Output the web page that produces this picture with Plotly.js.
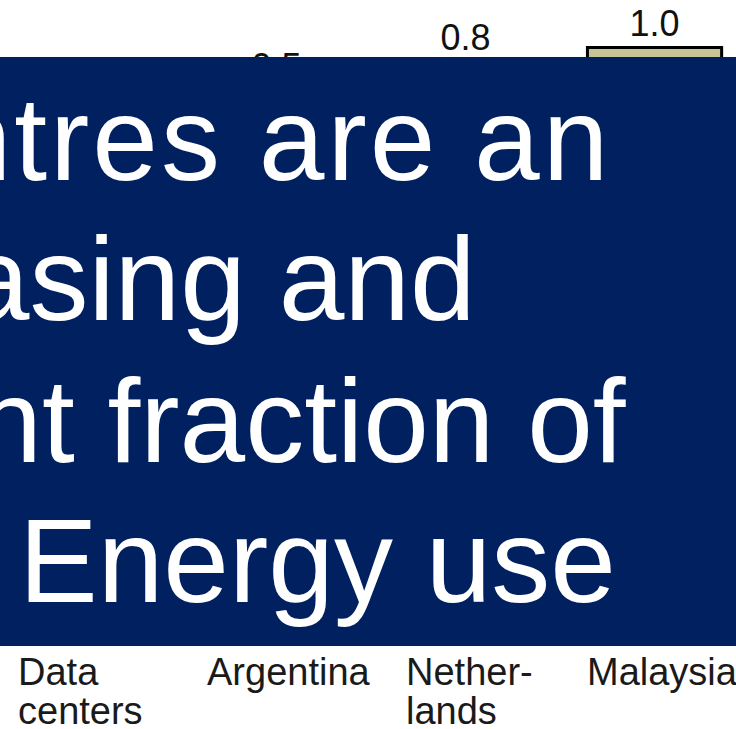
<!DOCTYPE html>
<html>
<head>
<meta charset="utf-8">
<script src="https://cdn.plot.ly/plotly-3.0.1.min.js"></script>
<style>
  html, body { margin: 0; padding: 0; background: #ffffff; overflow: hidden; }
  #chart { width: 736px; height: 729px; }
</style>
</head>
<body>
<div id="chart"></div>
<script>
// Electricity use, share of world total (%)
const categories = ['Data centers', 'Argentina', 'Netherlands', 'Malaysia'];
const tickLabels = [['Data', 'centers'], ['Argentina'], ['Nether-', 'lands'], ['Malaysia']];
const values = [0.4, 0.5, 0.8, 1.0];
const valueLabels = values.map(v => v.toFixed(1));
const headlineLines = ['Data centres are an', 'increasing and', 'significant fraction of', 'Energy use'];

const W = 736, H = 729;
const plotH = 640;                       // plot area height (px), top margin 0
const FONT = 'Liberation Sans, Arial, Helvetica, sans-serif';
const NAVY = '#002060';

// pixel helpers for paper coordinates
const px2x = px => px / W;
const px2y = py => 1 - py / plotH;

const trace = {
  type: 'bar',
  x: categories,
  y: values,
  text: valueLabels,
  textposition: 'outside',
  textfont: { family: FONT, size: 36, color: '#111111' },
  marker: { color: '#C8C496', line: { color: '#000000', width: 3 } },
  hoverinfo: 'skip',
  cliponaxis: false
};

const annotations = [];

// category labels, left-aligned at each bar's left edge
const halfBar = 0.3545;
const labelNudge = [-3, -3, 7, -1];
const labelBaselines = [685, 724];
tickLabels.forEach((lines, i) => {
  lines.forEach((line, j) => {
    annotations.push({
      text: line,
      xref: 'x', x: i - halfBar, xanchor: 'left', xshift: labelNudge[i],
      yref: 'paper', y: px2y(labelBaselines[j] - 13), yanchor: 'middle',
      showarrow: false, borderpad: 0, borderwidth: 0,
      font: { family: FONT, size: 38, color: '#1a1a1a' }
    });
  });
});

// headline over the navy panel
const headOrigins = [-482, -292, -450, 19];
const headTracking = [3, 0, 0, 0];
const headBaselines = [180, 320, 462, 602];
headlineLines.forEach((line, i) => {
  const txt = headTracking[i]
    ? '<span style="letter-spacing:' + headTracking[i] + 'px">' + line + '</span>'
    : line;
  annotations.push({
    text: txt,
    xref: 'paper', x: px2x(headOrigins[i]), xanchor: 'left',
    yref: 'paper', y: px2y(headBaselines[i] - 41), yanchor: 'middle',
    showarrow: false, borderpad: 0, borderwidth: 0, align: 'left',
    font: { family: FONT, size: 118, color: '#ffffff' }
  });
});

const layout = {
  width: W, height: H,
  margin: { l: 0, r: 0, t: 0, b: H - plotH, pad: 0 },
  paper_bgcolor: '#ffffff',
  plot_bgcolor: '#ffffff',
  showlegend: false,
  bargap: 0.29,
  xaxis: {
    type: 'category', range: [-0.463, 3.431],
    showticklabels: false, showgrid: false, zeroline: false, showline: false, ticks: ''
  },
  yaxis: {
    type: 'log', range: [-4.232, 0.339],
    showticklabels: false, showgrid: false, zeroline: false, showline: false, ticks: ''
  },
  shapes: [{
    type: 'rect', layer: 'above',
    xref: 'paper', yref: 'paper',
    x0: -0.01, x1: 1.01, y0: px2y(646), y1: px2y(57),
    fillcolor: NAVY, line: { width: 0 }
  }],
  annotations: annotations
};

Plotly.newPlot('chart', [trace], layout, { staticPlot: true, displayModeBar: false });
</script>
</body>
</html>
